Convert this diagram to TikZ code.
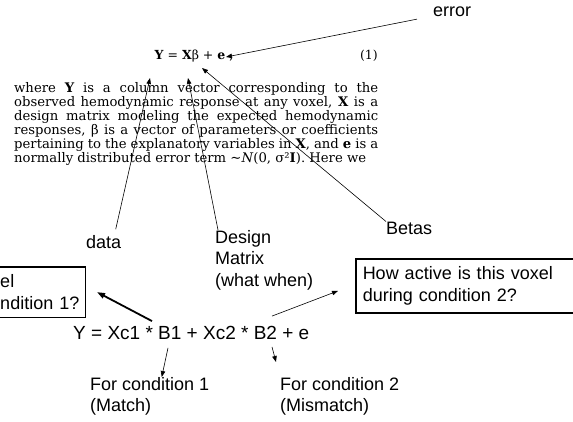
\documentclass[tikz,border=0pt]{standalone}
\usepackage{fontspec}
\newfontfamily\slidefont{Liberation Sans}
\newfontfamily\paperfont{DejaVu Serif}
\usetikzlibrary{arrows.meta}

\begin{document}
\begin{tikzpicture}[x=1pt,y=-1pt]
\tikzstyle{every node}+=[inner sep=0pt]
\tikzstyle{lbl}=[font=\slidefont\fontsize{18}{21.5}\selectfont,align=left]
\tikzstyle{qbox}=[lbl,draw,line width=1.5pt,inner xsep=7pt,inner ysep=8pt]
\tikzstyle{paper}=[font=\paperfont\fontsize{13.2}{14.1}\selectfont]
\tikzstyle{arr}=[-{Triangle[length=6pt,width=4.5pt]},line width=0.6pt]
\tikzstyle{fatarr}=[-{Triangle[length=8pt,width=5.5pt]},line width=1.8pt]
\useasboundingbox (0,0) rectangle (573,421);
\clip (0,0) rectangle (573,421);
\node [paper,font=\paperfont\fontsize{12.5}{14}\selectfont] (eq) at (194,56) {\textbf{Y} = \textbf{X}β + \textbf{e} ,};
\node [paper,anchor=east,font=\paperfont\fontsize{12.5}{14}\selectfont] (eqno) at (378,56) {(1)};
\node [paper,anchor=north west,text width=364pt,align=justify] (para) at (14,82) {\parfillskip=0pt\hbadness=10000
where \textbf{Y} is a column vector corresponding to the\linebreak
observed hemodynamic response at any voxel, \textbf{X} is a\linebreak
design matrix modeling the expected hemodynamic\linebreak
responses, β is a vector of parameters or coefficients\linebreak
pertaining to the explanatory variables in \textbf{X}, and \textbf{e} is a\linebreak
normally distributed error term ∼\textit{N}(0, σ²\textbf{I}). Here we};
\coordinate (ytip) at (150,78);
\coordinate (xtip) at (188,78);
\coordinate (btip) at (202,68);
\coordinate (etip) at (226,57);
\node [lbl,anchor=west] (error) at (433,12) {error};
\node [lbl,anchor=west] (data) at (86,242) {data};
\node [lbl,anchor=north west] (design) at (215,230) {Design\\Matrix\\(what when)};
\node [lbl,anchor=west] (betas) at (386,228) {Betas};
\draw [arr] ([shift={(-16pt,-2pt)}]error.south west) -- (etip);
\draw [arr] ([shift={(12pt,6pt)}]data.north) -- (ytip);
\draw [arr] ([xshift=3pt]design.north west) -- (xtip);
\draw [arr] (betas.north west) -- (btip);
\node [qbox,anchor=north east,inner xsep=5pt,text width=80pt] (q1) at (86,266) {el\\ndition 1?};
\node [qbox,anchor=north west,text width=210pt] (q2) at (355,258) {How active is this voxel\\during condition 2?};
\node [lbl,anchor=west,font=\slidefont\fontsize{19}{22}\selectfont] (glm) at (73,333) {Y = Xc1 * B1 + Xc2 * B2 + e};
\node [lbl,anchor=north west] (c1) at (90,377) {For condition 1\\(Match)};
\node [lbl,anchor=north west] (c2) at (280,377) {For condition 2\\(Mismatch)};
\draw [fatarr] ([shift={(79pt,5pt)}]glm.north west) -- ([xshift=11pt]q1.east);
\draw [arr] ([shift={(199pt,10pt)}]glm.north west) -- ([shift={(-17pt,-5pt)}]q2.west);
\draw [arr] ([shift={(95pt,-8pt)}]glm.south west) -- ([xshift=12pt]c1.north);
\draw [arr] ([shift={(199pt,-7pt)}]glm.south west) -- ([shift={(-4pt,15pt)}]c2.north west);
\end{tikzpicture}
\end{document}
